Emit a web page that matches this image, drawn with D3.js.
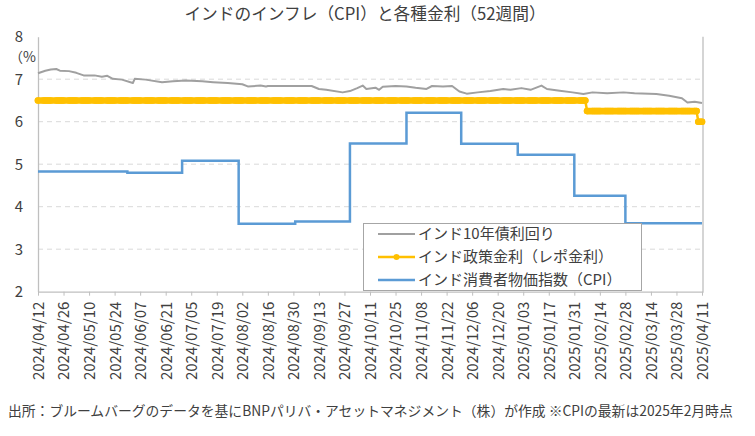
<!DOCTYPE html>
<html><head><meta charset="utf-8">
<script src="https://cdn.jsdelivr.net/npm/d3@7"></script>
<style>
html,body{margin:0;padding:0;background:#fff;}
svg text{font-family:"Noto Sans CJK JP","Noto Sans",sans-serif;fill:#404040;}
</style></head>
<body><svg id="c" width="755" height="436"></svg>
<script>
// ---- data ----
const titleText = "インドのインフレ（CPI）と各種金利（52週間）";
const seriesNames = ["インド10年債利回り", "インド政策金利（レポ金利）", "インド消費者物価指数（CPI）"];
const xTickLabels = ["2024/04/12","2024/04/26","2024/05/10","2024/05/24","2024/06/07","2024/06/21","2024/07/05","2024/07/19","2024/08/02","2024/08/16","2024/08/30","2024/09/13","2024/09/27","2024/10/11","2024/10/25","2024/11/08","2024/11/22","2024/12/06","2024/12/20","2025/01/03","2025/01/17","2025/01/31","2025/02/14","2025/02/28","2025/03/14","2025/03/28","2025/04/11"];
const yTicks = [2,3,4,5,6,7,8];

const bondDates = ["2024-04-12","2024-04-16","2024-04-19","2024-04-22","2024-04-24","2024-04-29","2024-05-03","2024-05-07","2024-05-13","2024-05-17","2024-05-20","2024-05-23","2024-05-28","2024-06-03","2024-06-04","2024-06-10","2024-06-19","2024-06-25","2024-07-02","2024-07-11","2024-07-17","2024-07-25","2024-08-02","2024-08-05","2024-08-12","2024-08-15","2024-08-16","2024-09-09","2024-09-13","2024-09-17","2024-09-26","2024-09-30","2024-10-04","2024-10-07","2024-10-09","2024-10-14","2024-10-16","2024-10-18","2024-10-25","2024-10-31","2024-11-05","2024-11-11","2024-11-14","2024-11-20","2024-11-25","2024-11-29","2024-12-03","2024-12-09","2024-12-16","2024-12-23","2024-12-27","2025-01-02","2025-01-07","2025-01-13","2025-01-16","2025-01-23","2025-01-30","2025-02-05","2025-02-10","2025-02-18","2025-02-27","2025-03-05","2025-03-17","2025-03-24","2025-03-31","2025-04-03","2025-04-07","2025-04-11"];
const bondYield = [7.14,7.20,7.23,7.24,7.20,7.19,7.15,7.09,7.09,7.06,7.08,7.01,6.99,6.91,7.01,6.99,6.93,6.95,6.97,6.95,6.93,6.91,6.88,6.83,6.85,6.83,6.84,6.84,6.77,6.75,6.69,6.72,6.79,6.85,6.77,6.80,6.75,6.82,6.84,6.83,6.80,6.77,6.84,6.83,6.84,6.71,6.66,6.69,6.72,6.77,6.75,6.79,6.75,6.85,6.77,6.73,6.69,6.65,6.69,6.67,6.69,6.67,6.65,6.61,6.55,6.45,6.47,6.44];

const policyStepDates = ["2024-04-12","2025-02-07","2025-04-09"];
const policyRates = [6.50, 6.25, 6.00];
const seriesEnd = "2025-04-11";

const cpiDates = ["2024-04-12","2024-05-31","2024-06-30","2024-07-31","2024-08-31","2024-09-30","2024-10-31","2024-11-30","2024-12-31","2025-01-31","2025-02-28","2025-04-11"];
const cpiValues = [4.83, 4.80, 5.08, 3.60, 3.65, 5.49, 6.21, 5.48, 5.22, 4.26, 3.61, 3.61];

const footText = "出所：ブルームバーグのデータを基にBNPパリバ・アセットマネジメント（株）が作成 ※CPIの最新は2025年2月時点";

// ---- chart ----
const parse = d3.utcParse("%Y-%m-%d");
const parseTick = d3.utcParse("%Y/%m/%d");
const svg = d3.select("#c");
const L = 38, R = 702, T = 36.7, B = 291.7;
const x = d3.scaleUtc().domain([parse("2024-04-12"), parse(seriesEnd)]).range([L, R]);
const y = d3.scaleLinear().domain([2, 8]).range([B, T]);

// gridlines
svg.append("g").selectAll("line").data(yTicks.filter(v => v > 2 && v < 8)).join("line")
  .attr("x1", L).attr("x2", 703).attr("y1", d => y(d)).attr("y2", d => y(d))
  .attr("stroke", "#d9d9d9").attr("stroke-width", 1).attr("stroke-dasharray", "5,4");

// axes
const xAxis = d3.axisBottom(x).tickValues(xTickLabels.map(parseTick)).tickSize(4).tickFormat(d3.utcFormat("%Y/%m/%d"));
const gx = svg.append("g").attr("transform", `translate(0,${B})`).call(xAxis);
gx.select(".domain").attr("stroke", "#bfbfbf").attr("stroke-width", 1.3).attr("d", `M${L},0.5H703`);
gx.selectAll(".tick line").attr("stroke", "#bfbfbf");
gx.selectAll(".tick text").attr("transform", "rotate(-90)").attr("text-anchor", "end")
  .attr("x", -10).attr("y", 0).attr("dy", "0.36em").style("font-size", "15px").style("fill", "#404040");

const yAxis = d3.axisLeft(y).tickValues(yTicks).tickSize(0).tickFormat(d3.format("d"));
const gy = svg.append("g").attr("transform", `translate(${L},0)`).call(yAxis);
gy.select(".domain").attr("stroke", "#bfbfbf").attr("stroke-width", 1.3);
gy.selectAll(".tick text").attr("x", -15).style("font-size", "15px").style("fill", "#404040");
svg.append("line").attr("x1", 703).attr("x2", 703).attr("y1", T).attr("y2", B + 1)
  .attr("stroke", "#bfbfbf").attr("stroke-width", 1.3);
svg.append("text").attr("x", 9).attr("y", 62).text("（%").style("font-size", "14px");

// bond line
const bond = bondDates.map((d, i) => ({ d: parse(d), v: bondYield[i] }));
svg.append("path").datum(bond).attr("fill", "none").attr("stroke", "#a0a0a0").attr("stroke-width", 2)
  .attr("stroke-linejoin", "round")
  .attr("d", d3.line().x(p => x(p.d)).y(p => y(p.v)));

// policy rate (business-day observations, step values)
const steps = policyStepDates.map(parse);
const days = d3.utcDay.range(parse("2024-04-12"), d3.utcDay.offset(parse(seriesEnd), 1))
  .filter(d => d.getUTCDay() !== 0 && d.getUTCDay() !== 6);
const policy = days.map(d => { let k = 0; steps.forEach((s, i) => { if (d >= s) k = i; }); return { d, k, v: policyRates[k] }; });
svg.append("path").datum(policy).attr("fill", "none").attr("stroke", "#ffc000").attr("stroke-width", 2.5)
  .attr("d", d3.line().x(p => x(p.d)).y(p => y(p.v)));
// marker band per level (markers merge into a solid band)
d3.groups(policy, p => p.k).forEach(([k, pts]) => {
  svg.append("path").datum(pts).attr("fill", "none").attr("stroke", "#ffc000").attr("stroke-width", 6.6)
    .attr("stroke-linecap", "round")
    .attr("d", d3.line().x(p => x(p.d)).y(p => y(p.v)));
});
svg.append("g").selectAll("circle").data(policy).join("circle")
  .attr("cx", p => x(p.d)).attr("cy", p => y(p.v)).attr("r", 3.3).attr("fill", "#ffc000");

// CPI step
const cpi = cpiDates.map((d, i) => ({ d: parse(d), v: cpiValues[i] }));
svg.append("path").datum(cpi).attr("fill", "none").attr("stroke", "#5b9bd5").attr("stroke-width", 2.5)
  .attr("d", d3.line().curve(d3.curveStepAfter).x(p => x(p.d)).y(p => y(p.v)));

// legend
const lg = svg.append("g");
lg.append("rect").attr("x", 363.5).attr("y", 223.5).attr("width", 278).attr("height", 67)
  .attr("fill", "#fff").attr("stroke", "#a6a6a6").attr("stroke-width", 1);
const colors = ["#a0a0a0", "#ffc000", "#5b9bd5"];
const widths = [2, 2.5, 2.5];
seriesNames.forEach((n, i) => {
  const yy = 234 + i * 23;
  lg.append("line").attr("x1", 378).attr("x2", 415).attr("y1", yy).attr("y2", yy)
    .attr("stroke", colors[i]).attr("stroke-width", widths[i]);
  if (i === 1) lg.append("circle").attr("cx", 396.5).attr("cy", yy).attr("r", 3).attr("fill", colors[i]);
  lg.append("text").attr("x", 418).attr("y", yy).attr("dy", "0.35em").text(n).style("font-size", "15px");
});

// title & footnote
svg.append("text").attr("x", 365).attr("y", 20).attr("text-anchor", "middle").text(titleText).style("font-size", "16.7px");
svg.append("text").attr("x", 8).attr("y", 416).text(footText).style("font-size", "13.8px");
</script></body></html>
